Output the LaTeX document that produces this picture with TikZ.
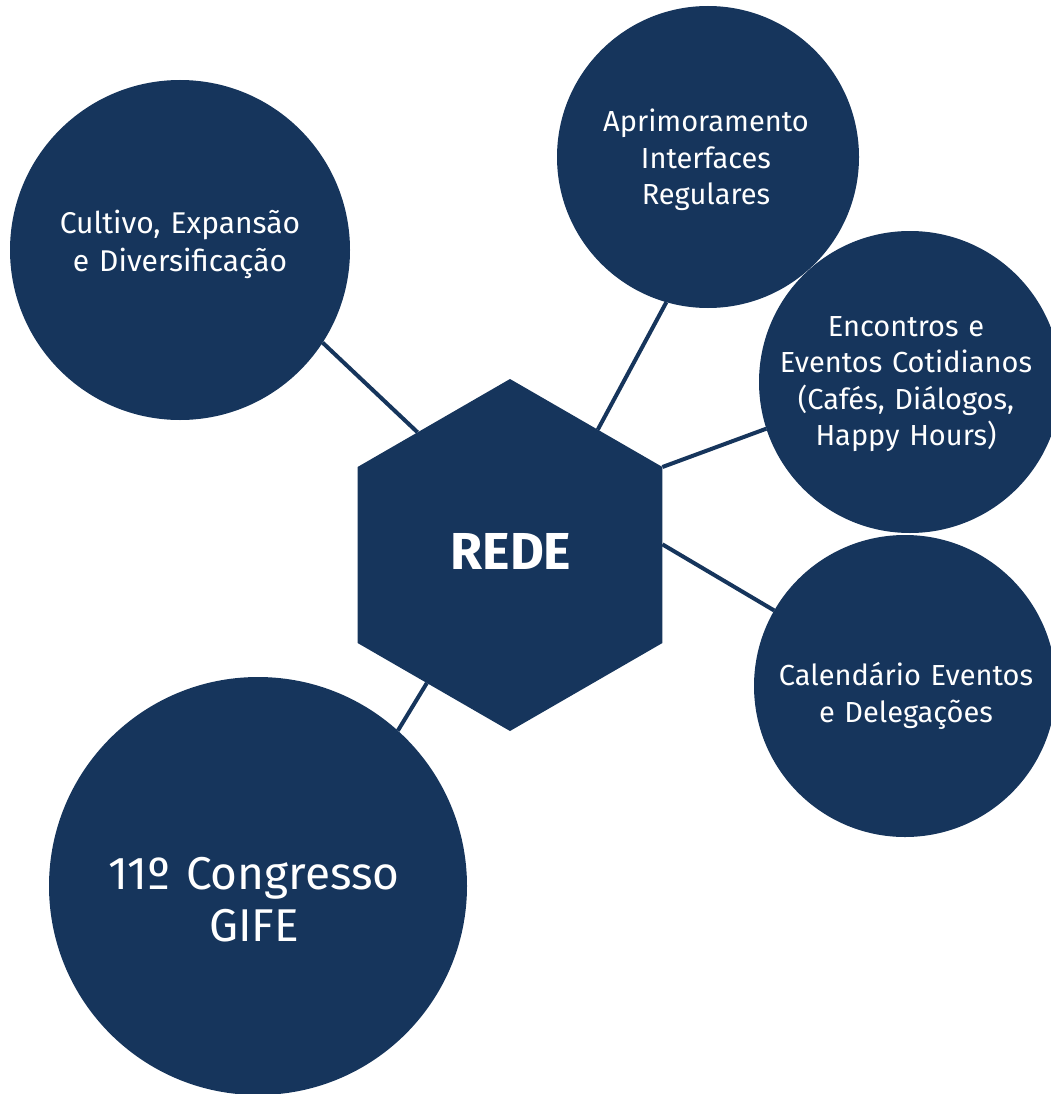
\documentclass[tikz,border=0pt]{standalone}
\usepackage{fontspec}
\setmainfont{Fira Sans}
\usetikzlibrary{shapes.geometric}
\definecolor{navy}{HTML}{16355C}
\begin{document}
\begin{tikzpicture}[x=1pt,y=-1pt,
  bubble/.style={circle,fill=navy,draw=none,inner sep=0pt,outer sep=0pt},
  hexa/.style={regular polygon,regular polygon sides=6,shape border rotate=30,fill=navy,draw=none,inner sep=0pt,outer sep=0pt,minimum size=352pt},
  txt/.style={text=white,align=center,inner sep=0pt,font=\fontsize{29}{36.5}\selectfont},
  bigtxt/.style={text=white,align=center,inner sep=0pt,font=\fontsize{46}{52}\selectfont},
  hubtxt/.style={text=white,inner sep=0pt,font=\fontsize{52}{60}\selectfont\bfseries},
  link/.style={draw=navy,line width=4pt}]
\clip (0,0) rectangle (1051,1094);
\node[bubble,minimum size=340pt] (cult) at (180,250) {};
\node[bubble,minimum size=302pt] (apri) at (708,157) {};
\node[bubble,minimum size=302pt] (enco) at (910,382) {};
\node[bubble,minimum size=302pt] (cale) at (905,686) {};
\node[bubble,minimum size=418pt] (cong) at (258,886) {};
\node[hexa] (hub) at (510,555) {};
\draw[link] (cult.-33.2) -- (hub.127.3);
\draw[link] (apri.-106.5) -- (hub.55.5);
\draw[link] (enco.198.6) -- (hub.30);
\draw[link] (cale.150.7) -- (hub.4.9);
\draw[link] (cong.48.3) -- (hub.237.4);
\node[txt,text width=320pt,font=\fontsize{30}{38}\selectfont] (tcult) at (180,244) {Cultivo, Expansão\\e Diversificação};
\node[txt,text width=290pt] (tapri) at (706,160) {Aprimoramento\\Interfaces\\Regulares};
\node[txt,text width=290pt] (tenco) at (906,384) {Encontros e\\Eventos Cotidianos\\(Cafés, Diálogos,\\Happy Hours)};
\node[txt,text width=290pt] (tcale) at (906,696) {Calendário Eventos\\e Delegações};
\node[bigtxt,text width=400pt] (tcong) at (254,900) {11º Congresso\\GIFE};
\node[hubtxt] (thub) at (511,551) {REDE};
\end{tikzpicture}
\end{document}
